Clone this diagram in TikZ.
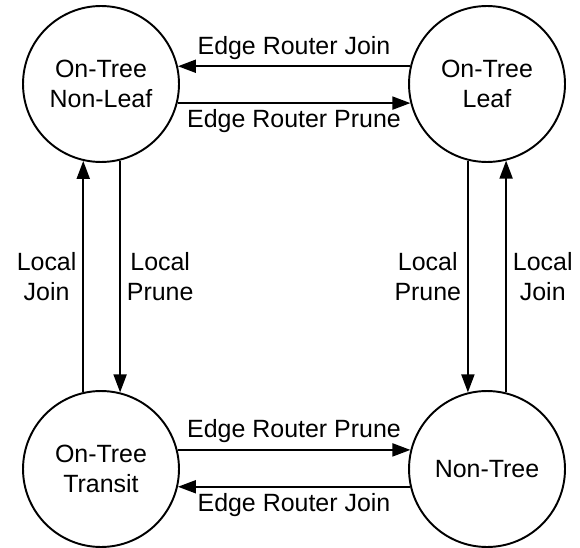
\documentclass[tikz,border=0pt]{standalone}
\usepackage{fontspec}
\setmainfont{Liberation Sans}
\usetikzlibrary{arrows.meta, positioning}
\newcommand{\statefont}{\fontsize{14.2}{17}\selectfont}
\tikzset{
    statenode/.style={circle, draw, line width=1.1pt, minimum size=3.12cm,
                      inner sep=0pt, align=center, font=\statefont},
    trans/.style={-{Triangle[length=0.36cm, width=0.26cm]}, line width=1.1pt},
    translabel/.style={font=\statefont, align=center},
}

\begin{document}
\begin{tikzpicture}[x=0.02cm, y=-0.02cm]
    \useasboundingbox (0,0) rectangle (580,547);

    \node[statenode] (nonleaf) at (101,84) {On-Tree\\Non-Leaf};
    \node[statenode] (leaf) at (487,84) {On-Tree\\Leaf};
    \node[statenode] (transit) at (101,469) {On-Tree\\Transit};
    \node[statenode] (nontree) at (487,469) {Non-Tree};

    % edge router messages
    \draw[trans] (leaf.167) -- node[translabel, above] {Edge Router Join} (nonleaf.13);
    \draw[trans] (nonleaf.-14) -- node[translabel, below] {Edge Router Prune} (leaf.194);
    \draw[trans] (transit.14) -- node[translabel, above] {Edge Router Prune} (nontree.166);
    \draw[trans] (nontree.-167) -- node[translabel, below] {Edge Router Join} (transit.-13);

    % local messages
    \draw[trans] (transit.103) -- node[translabel, left] {Local\\Join} (nonleaf.-103);
    \draw[trans] (nonleaf.-76) -- node[translabel, right] {Local\\Prune} (transit.76);
    \draw[trans] (leaf.-104) -- node[translabel, left] {Local\\Prune} (nontree.104);
    \draw[trans] (nontree.76) -- node[translabel, right] {Local\\Join} (leaf.-76);
\end{tikzpicture}
\end{document}
